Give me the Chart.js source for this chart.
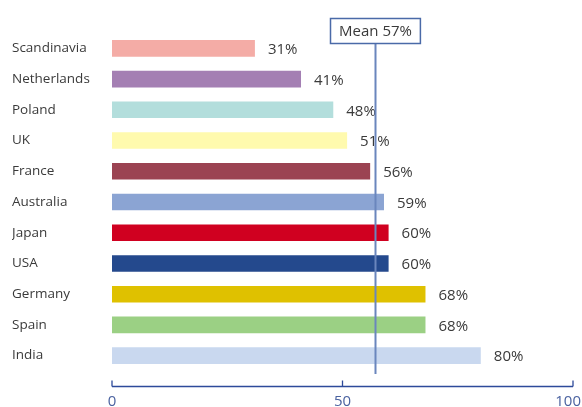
<!DOCTYPE html>
<html>
<head>
<meta charset="utf-8">
<script src="https://cdn.jsdelivr.net/npm/chart.js@4/dist/chart.umd.min.js"></script>
<style>
  html, body { margin: 0; padding: 0; background: #fff; }
  #wrap { width: 582px; height: 407px; position: relative; }
</style>
</head>
<body>
<div id="wrap"><canvas id="c"></canvas></div>
<script>
const countries = ['Scandinavia', 'Netherlands', 'Poland', 'UK', 'France', 'Australia', 'Japan', 'USA', 'Germany', 'Spain', 'India'];
const shares = [31, 41, 48, 51, 56, 59, 60, 60, 68, 68, 80];
const barColors = ['#f4aca6', '#a47fb3', '#b3dedc', '#fffaae', '#9b4352', '#8ba4d3', '#d00020', '#24498d', '#dfc100', '#9bd084', '#c9d8ef'];
const xTicks = [0, 50, 100];
const meanValue = 57;
const meanLabel = 'Mean 57%';

const FONT = '"Open Sans", "Noto Sans", sans-serif';

// Value labels to the right of each bar, mean marker and bottom axis
const overlay = {
  id: 'overlay',
  afterDatasetsDraw(chart) {
    const ctx = chart.ctx;
    const x = chart.scales.x;
    const area = chart.chartArea;
    const meta = chart.getDatasetMeta(0);

    ctx.save();
    ctx.font = '15px ' + FONT;
    ctx.fillStyle = '#3a3a3a';
    ctx.textAlign = 'left';
    ctx.textBaseline = 'middle';
    meta.data.forEach((bar, i) => {
      ctx.fillText(shares[i] + '%', bar.x + 13, bar.y + 1.5);
    });

    // mean line and its label box
    const mx = Math.round(x.getPixelForValue(meanValue)) + 0.5;
    const boxTop = 18.5, boxBottom = 43.5;
    ctx.strokeStyle = '#6a86bd';
    ctx.lineWidth = 2;
    ctx.beginPath();
    ctx.moveTo(mx, boxBottom);
    ctx.lineTo(mx, area.bottom + 3);
    ctx.stroke();

    ctx.font = '15px ' + FONT;
    const tw = ctx.measureText(meanLabel).width;
    const bw = tw + 17;
    const bx = Math.round(mx - bw / 2 - 0.5) + 0.5;
    ctx.fillStyle = '#fff';
    ctx.fillRect(bx, boxTop, bw, boxBottom - boxTop);
    ctx.strokeStyle = '#4a6aa8';
    ctx.lineWidth = 1.5;
    ctx.strokeRect(bx, boxTop, bw, boxBottom - boxTop);
    ctx.fillStyle = '#3a3a3a';
    ctx.textAlign = 'center';
    ctx.fillText(meanLabel, mx, (boxTop + boxBottom) / 2 + 1);

    // bottom axis with upward ticks
    const ay = area.bottom + 15.5;
    const x0 = x.getPixelForValue(xTicks[0]);
    const x1 = x.getPixelForValue(xTicks[xTicks.length - 1]);
    ctx.strokeStyle = '#2d4a9a';
    ctx.lineWidth = 1.3;
    ctx.beginPath();
    ctx.moveTo(x0, ay);
    ctx.lineTo(x1, ay);
    xTicks.forEach(v => {
      const px = x.getPixelForValue(v);
      ctx.moveTo(px, ay);
      ctx.lineTo(px, ay - 6);
    });
    ctx.stroke();

    ctx.fillStyle = '#4a62a0';
    ctx.font = '15px ' + FONT;
    ctx.textAlign = 'center';
    xTicks.forEach(v => {
      const label = String(v);
      const w = ctx.measureText(label).width;
      const px = Math.min(x.getPixelForValue(v), chart.width - w / 2 - 1);
      ctx.fillText(label, px, ay + 15);
    });
    ctx.restore();
  }
};

new Chart(document.getElementById('c'), {
  type: 'bar',
  data: {
    labels: countries,
    datasets: [{
      data: shares,
      backgroundColor: barColors,
      borderWidth: 0,
      barPercentage: 0.54,
      categoryPercentage: 1
    }]
  },
  options: {
    indexAxis: 'y',
    responsive: true,
    maintainAspectRatio: false,
    animation: false,
    layout: { padding: { left: 12, right: 9, top: 33, bottom: 36 } },
    plugins: { legend: { display: false }, tooltip: { enabled: false } },
    scales: {
      x: {
        display: false,
        min: 0,
        max: 100
      },
      y: {
        grid: { display: false, drawTicks: false },
        border: { display: false },
        ticks: {
          crossAlign: 'far',
          padding: 0,
          color: '#3a3a3a',
          font: { family: FONT, size: 13.5 }
        },
        afterFit(scale) { scale.width = 100; }
      }
    }
  },
  plugins: [overlay]
});
</script>
</body>
</html>
